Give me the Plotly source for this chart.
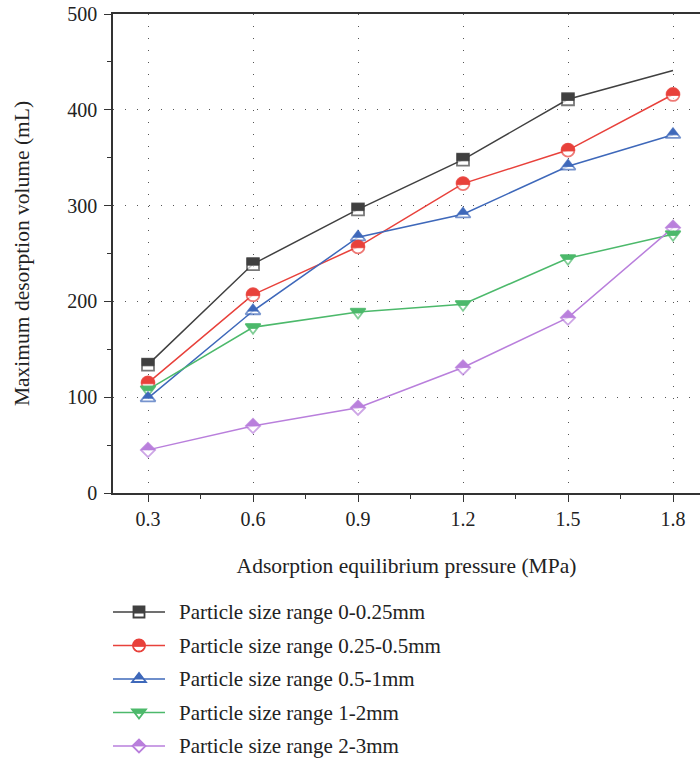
import plotly.graph_objects as go
import math

# ---------------- data ----------------
pressure = [0.3, 0.6, 0.9, 1.2, 1.5, 1.8]
series_names = [
    "Particle size range 0-0.25mm",
    "Particle size range 0.25-0.5mm",
    "Particle size range 0.5-1mm",
    "Particle size range 1-2mm",
    "Particle size range 2-3mm",
]
vol_0_025 = [134, 239, 296, 348, 411, 441]
vol_025_05 = [115, 207, 257, 323, 358, 416]
vol_05_1 = [99, 190, 267, 291, 341, 374]
vol_1_2 = [108, 173, 189, 197, 245, 270]
vol_2_3 = [45, 70, 89, 131, 183, 277]
series_values = [vol_0_025, vol_025_05, vol_05_1, vol_1_2, vol_2_3]
x_ticks = [0.3, 0.6, 0.9, 1.2, 1.5, 1.8]
y_ticks = [0, 100, 200, 300, 400, 500]

# ---------------- styles ----------------
colors = ["#404040", "#e8413b", "#3e68ba", "#4cb96b", "#b97fdc"]
symbols = ["square", "circle", "triangle-up", "triangle-down", "diamond"]
msizes = [12, 13, 13, 13, 11]
# last point of first series has no marker in the original
marker_visible = [[1, 1, 1, 1, 1, 0], [1] * 6, [1] * 6, [1] * 6, [1] * 6]

W, H = 700, 763
ML, MR, MT, MB = 113, 0, 14, 270
PW, PH = W - ML - MR, H - MT - MB
FONT = "Liberation Serif, Times New Roman, serif"


def fmt(v):
    return f"{v:.2f}"


def poly(pts):
    return "M" + "L".join(f"{fmt(px)},{fmt(py)}" for px, py in pts) + "Z"


def sym_paths(sym, s):
    r = s / 2.0
    if sym == "square":
        full = poly([(-r, -r), (r, -r), (r, r), (-r, r)])
        c = -0.2 * r
        half = poly([(-r, c), (r, c), (r, r), (-r, r)])
    elif sym == "circle":
        n = 32
        full = poly([(r * math.cos(2 * math.pi * k / n), r * math.sin(2 * math.pi * k / n))
                     for k in range(n)])
        a = math.asin(0.15)
        m = 24
        half = poly([(r * math.cos(-a + (math.pi + 2 * a) * k / m),
                      r * math.sin(-a + (math.pi + 2 * a) * k / m)) for k in range(m + 1)])
    elif sym == "triangle-up":
        rt = 2 * r / math.sqrt(3)
        full = poly([(-rt, -r / 2), (rt, -r / 2), (0, r)])
        f = 0.68
        yc = r - f * 1.5 * r
        half = poly([(-rt * f, yc), (rt * f, yc), (0, r)])
    elif sym == "triangle-down":
        rt = 2 * r / math.sqrt(3)
        full = poly([(-rt, r / 2), (rt, r / 2), (0, -r)])
        f = 0.45
        yc = r / 2 - f * 1.5 * r
        w = rt * (1 - f)
        half = poly([(-rt, r / 2), (rt, r / 2), (w, yc), (-w, yc)])
    else:  # diamond
        rd = 1.3 * r
        full = poly([(-rd, 0), (0, rd), (rd, 0), (0, -rd)])
        half = poly([(-rd, 0), (0, rd), (rd, 0)])
    return full, half


fig = go.Figure()
shapes = []
annotations = []

for i, (name, vals) in enumerate(zip(series_names, series_values)):
    sizes = [msizes[i] * v for v in marker_visible[i]]
    fig.add_trace(go.Scatter(
        x=pressure, y=vals, name=name, mode="lines+markers",
        line=dict(color=colors[i], width=1.5),
        marker=dict(symbol=symbols[i], size=sizes, color="white",
                    line=dict(color=colors[i], width=1.8)),
        showlegend=False,
    ))
    full, half = sym_paths(symbols[i], msizes[i])
    for xv, yv, vis in zip(pressure, vals, marker_visible[i]):
        if not vis:
            continue
        shapes.append(dict(
            type="path", xref="x", yref="y", xsizemode="pixel", ysizemode="pixel",
            xanchor=xv, yanchor=yv, path=half, fillcolor=colors[i],
            line=dict(color=colors[i], width=0.8), layer="above",
        ))

# ---------------- custom legend (pixel positions -> paper) ----------------
def px2paper_x(px):
    return (px - ML) / PW


def px2paper_y(py):
    return (MT + PH - py) / PH


leg_row0 = 612
leg_gap = 33.5
leg_x0, leg_x1, leg_mx, leg_tx = 113, 165, 139, 177
for i, name in enumerate(series_names):
    py = leg_row0 + i * leg_gap
    yp = px2paper_y(py)
    shapes.append(dict(type="line", xref="paper", yref="paper",
                       x0=px2paper_x(leg_x0), x1=px2paper_x(leg_x1), y0=yp, y1=yp,
                       line=dict(color=colors[i], width=1.5)))
    full, half = sym_paths(symbols[i], msizes[i] - 1)
    shapes.append(dict(type="path", xref="paper", yref="paper", xsizemode="pixel",
                       ysizemode="pixel", xanchor=px2paper_x(leg_mx), yanchor=yp,
                       path=full, fillcolor="white",
                       line=dict(color=colors[i], width=1.8)))
    shapes.append(dict(type="path", xref="paper", yref="paper", xsizemode="pixel",
                       ysizemode="pixel", xanchor=px2paper_x(leg_mx), yanchor=yp,
                       path=half, fillcolor=colors[i],
                       line=dict(color=colors[i], width=0.8)))
    annotations.append(dict(text=name, xref="paper", yref="paper",
                            x=px2paper_x(leg_tx), y=yp, xanchor="left", yanchor="middle",
                            showarrow=False, font=dict(family=FONT, size=21, color="#222")))

axis_common = dict(
    showline=True, linecolor="#333", linewidth=1.5,
    ticks="outside", ticklen=7, tickwidth=1.3, tickcolor="#333",
    showgrid=True, gridcolor="#555", gridwidth=1.4, griddash="1.4px,10.6px",
    zeroline=False,
    tickfont=dict(family=FONT, size=20, color="#222"),
)

fig.update_layout(
    width=W, height=H,
    margin=dict(l=ML, r=MR, t=MT, b=MB, autoexpand=False),
    paper_bgcolor="white", plot_bgcolor="white",
    shapes=shapes, annotations=annotations,
    xaxis=dict(
        range=[0.2, 0.2 + PW / 350.0], tickvals=x_ticks,
        ticktext=[f"{v:.1f}" for v in x_ticks], mirror=True,
        minor=dict(tickvals=[0.45, 0.75, 1.05, 1.35, 1.65], ticks="outside",
                   ticklen=4, tickwidth=1.3, tickcolor="#333", showgrid=False),
        title=dict(text="Adsorption equilibrium pressure (MPa)", standoff=29,
                   font=dict(family=FONT, size=21.5, color="#222")),
        **axis_common,
    ),
    yaxis=dict(
        range=[0, 500], tickvals=y_ticks, ticklabelstandoff=3,
        minor=dict(tickvals=[50, 150, 250, 350, 450], ticks="outside",
                   ticklen=4, tickwidth=1.3, tickcolor="#333", showgrid=False),
        title=dict(text="Maximum desorption volume (mL)", standoff=32,
                   font=dict(family=FONT, size=21.5, color="#222")),
        **axis_common,
    ),
)

fig.write_html("out.html")
